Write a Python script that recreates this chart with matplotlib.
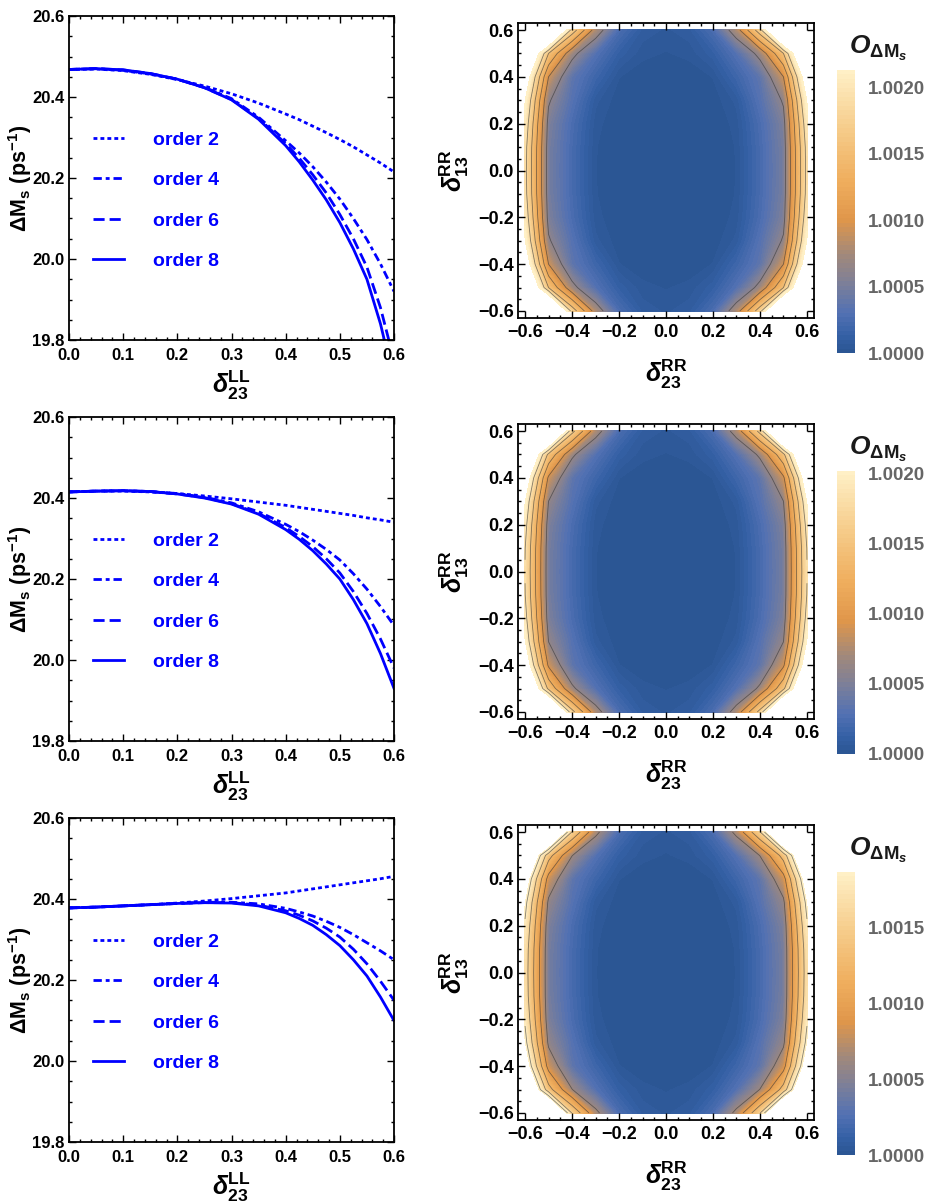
import numpy as np
import matplotlib
matplotlib.use('Agg')
import matplotlib.pyplot as plt
from matplotlib.colors import LinearSegmentedColormap
from matplotlib.ticker import MultipleLocator, FuncFormatter

plt.rcParams['font.family'] = ['Liberation Sans', 'DejaVu Sans']
plt.rcParams['font.weight'] = 'bold'
plt.rcParams['mathtext.fontset'] = 'custom'
plt.rcParams['mathtext.rm'] = 'Liberation Sans:bold'
plt.rcParams['mathtext.bf'] = 'Liberation Sans:bold'
plt.rcParams['mathtext.it'] = 'Liberation Sans:italic:bold'
plt.rcParams['mathtext.bfit'] = 'Liberation Sans:italic:bold'
plt.rcParams['mathtext.sf'] = 'Liberation Sans:bold'

# ---------------- data: left panels (Delta M_s vs delta_23^LL) ----------------
delta_ll = [0.0, 0.05, 0.1, 0.15, 0.2, 0.25, 0.3, 0.35, 0.4,
            0.425, 0.45, 0.475, 0.5, 0.525, 0.55, 0.575, 0.6]

p1_order2 = [20.468, 20.469, 20.465, 20.456, 20.443, 20.427, 20.408, 20.385, 20.358,
             20.344, 20.328, 20.312, 20.295, 20.277, 20.257, 20.237, 20.215]
p1_order4 = [20.468, 20.470, 20.466, 20.457, 20.444, 20.424, 20.396, 20.350, 20.292,
             20.262, 20.228, 20.190, 20.148, 20.100, 20.048, 19.988, 19.920]
p1_order6 = [20.468, 20.470, 20.467, 20.458, 20.444, 20.423, 20.394, 20.347, 20.285,
             20.249, 20.208, 20.163, 20.110, 20.050, 19.980, 19.880, 19.750]
p1_order8 = [20.468, 20.470, 20.467, 20.458, 20.444, 20.423, 20.393, 20.345, 20.280,
             20.240, 20.195, 20.146, 20.090, 20.025, 19.950, 19.840, 19.700]

p2_order2 = [20.415, 20.417, 20.417, 20.415, 20.411, 20.405, 20.398, 20.390, 20.382,
             20.377, 20.372, 20.367, 20.362, 20.357, 20.351, 20.346, 20.340]
p2_order4 = [20.415, 20.417, 20.418, 20.416, 20.411, 20.402, 20.388, 20.366, 20.335,
             20.317, 20.296, 20.273, 20.247, 20.213, 20.175, 20.132, 20.085]
p2_order6 = [20.415, 20.417, 20.418, 20.416, 20.410, 20.401, 20.386, 20.362, 20.327,
             20.305, 20.280, 20.250, 20.215, 20.169, 20.115, 20.052, 19.980]
p2_order8 = [20.415, 20.417, 20.418, 20.416, 20.410, 20.400, 20.385, 20.360, 20.322,
             20.298, 20.270, 20.237, 20.200, 20.149, 20.090, 20.016, 19.930]

p3_order2 = [20.378, 20.380, 20.383, 20.386, 20.390, 20.395, 20.401, 20.408, 20.415,
             20.420, 20.425, 20.430, 20.435, 20.440, 20.445, 20.450, 20.456]
p3_order4 = [20.378, 20.380, 20.383, 20.386, 20.389, 20.392, 20.392, 20.388, 20.377,
             20.368, 20.358, 20.345, 20.330, 20.312, 20.292, 20.272, 20.250]
p3_order6 = [20.378, 20.380, 20.383, 20.386, 20.389, 20.391, 20.391, 20.385, 20.371,
             20.360, 20.346, 20.328, 20.306, 20.276, 20.240, 20.197, 20.150]
p3_order8 = [20.378, 20.380, 20.383, 20.386, 20.389, 20.391, 20.390, 20.383, 20.366,
             20.352, 20.335, 20.312, 20.285, 20.250, 20.210, 20.158, 20.100]

order_labels = ['order 2', 'order 4', 'order 6', 'order 8']

# ---------------- data: right panels (O_{Delta M_s} - 1, units of 1e-4) ----------------
# quarter grid: rows |delta_13^RR| = 0..0.6, columns |delta_23^RR| = 0..0.6 (symmetric)
grid_offsets = [0.0, 0.1, 0.2, 0.3, 0.4, 0.5, 0.6]

p1_quarter = [
    [0.00, 0.00, 0.02, 0.35, 2.30, 4.80, 18.8],
    [0.00, 0.00, 0.02, 0.36, 2.33, 4.85, 19.0],
    [0.00, 0.00, 0.04, 0.46, 2.50, 5.20, 20.0],
    [0.00, 0.01, 0.09, 0.78, 3.10, 6.30, 21.6],
    [0.05, 0.08, 0.35, 1.80, 3.60, 9.00, 24.7],
    [0.30, 0.45, 1.20, 3.00, 6.90, 15.0, 30.8],
    [0.60, 0.90, 2.50, 7.70, 16.8, 36.0, 99.0],
]
p2_quarter = [
    [0.00, 0.00, 0.02, 0.33, 2.19, 4.56, 17.9],
    [0.00, 0.00, 0.02, 0.34, 2.21, 4.61, 18.1],
    [0.00, 0.00, 0.04, 0.44, 2.38, 4.94, 19.0],
    [0.00, 0.01, 0.09, 0.74, 2.95, 5.99, 20.5],
    [0.05, 0.08, 0.33, 1.71, 3.42, 8.55, 23.5],
    [0.29, 0.43, 1.14, 2.85, 6.56, 14.3, 29.3],
    [0.57, 0.86, 2.38, 7.32, 16.0, 34.2, 94.0],
]
p3_quarter = [
    [0.00, 0.00, 0.02, 0.31, 2.02, 4.22, 16.5],
    [0.00, 0.00, 0.02, 0.32, 2.05, 4.27, 16.7],
    [0.00, 0.00, 0.04, 0.40, 2.20, 4.58, 17.6],
    [0.00, 0.01, 0.08, 0.69, 2.73, 5.54, 19.0],
    [0.04, 0.07, 0.31, 1.58, 3.17, 7.92, 21.7],
    [0.26, 0.40, 1.06, 2.64, 6.07, 13.2, 27.1],
    [0.53, 0.79, 2.20, 6.78, 14.8, 31.7, 87.1],
]

cbar_max = [1.00213, 1.00202, 1.00187]
cbar_ticks = [[1.0000, 1.0005, 1.0010, 1.0015, 1.0020],
              [1.0000, 1.0005, 1.0010, 1.0015, 1.0020],
              [1.0000, 1.0005, 1.0010, 1.0015]]
contour_line_levels = [1.0006, 1.0009, 1.0012, 1.0015, 1.0018]

# ---------------- styling ----------------
W, H = 930, 1202
fig = plt.figure(figsize=(W / 100, H / 100), dpi=100)

cmap = LinearSegmentedColormap.from_list('sunset', [
    (0.00, '#2a5592'), (0.06, '#3460a5'), (0.14, '#5271b3'),
    (0.24, '#7b7f9a'), (0.35, '#a2897a'), (0.47, '#e0964a'),
    (0.61, '#efae5e'), (0.80, '#f6cd8c'), (1.00, '#fff1c8')])

blue = '#0000ff'
styles = [dict(dashes=(1.4, 1.1)), dict(dashes=(3.0, 1.4, 1.4, 1.4)),
          dict(dashes=(4.0, 1.8)), dict(linestyle='-')]

minus = lambda fmt: FuncFormatter(lambda v, p: (fmt % v).replace('-', '\u2212'))


def frame(ax, fs, xpad=3):
    ax.tick_params(which='both', direction='in', top=True, right=True, width=1.0,
                   labelsize=fs, pad=3)
    ax.tick_params(axis='x', which='both', pad=xpad)
    ax.tick_params(which='major', length=5)
    ax.tick_params(which='minor', length=2.5)
    for s in ax.spines.values():
        s.set_linewidth(1.3)


def px_axes(l, t, w, h):
    return fig.add_axes([l / W, 1 - (t + h) / H, w / W, h / H])


left_data = [(p1_order2, p1_order4, p1_order6, p1_order8),
             (p2_order2, p2_order4, p2_order6, p2_order8),
             (p3_order2, p3_order4, p3_order6, p3_order8)]
quarters = [p1_quarter, p2_quarter, p3_quarter]

half = np.array(grid_offsets)
coords = np.concatenate([-half[:0:-1], half])


def mirror(q):
    q = np.asarray(q, dtype=float)
    qx = np.hstack([q[:, :0:-1], q])
    return np.vstack([qx[:0:-1], qx])


for r in range(3):
    dy = 401 * r
    # ---- left panel ----
    ax = px_axes(69, 16 + dy, 325, 324)
    handles = []
    for series, st, lab in zip(left_data[r], styles, order_labels):
        ln, = ax.plot(delta_ll, series, color=blue, lw=2.0, label=lab, **st)
        handles.append(ln)
    ax.set_xlim(0, 0.6)
    ax.set_ylim(19.8, 20.6)
    ax.xaxis.set_major_locator(MultipleLocator(0.1))
    ax.xaxis.set_minor_locator(MultipleLocator(0.02))
    ax.yaxis.set_major_locator(MultipleLocator(0.2))
    ax.yaxis.set_minor_locator(MultipleLocator(0.05))
    ax.xaxis.set_major_formatter(minus('%.1f'))
    ax.yaxis.set_major_formatter(minus('%.1f'))
    frame(ax, 12, xpad=5.5)
    ax.set_xlabel(r'$\boldsymbol{\delta}_{\mathbf{23}}^{\mathbf{LL}}$', fontsize=18)
    ax.xaxis.set_label_coords(0.5, -0.14)
    ax.xaxis.label.set_va('center')
    ax.set_ylabel(r'$\mathbf{\Delta M_s\ (ps^{-1})}$', fontsize=15.5)
    ax.yaxis.set_label_coords(-0.15, 0.5)
    ax.yaxis.label.set_va('center')
    leg = ax.legend(handles=handles, loc='upper left', bbox_to_anchor=(0.075, 0.645),
                    frameon=False, handlelength=1.55, handletextpad=1.5,
                    labelspacing=1.18, borderpad=0, borderaxespad=0,
                    prop={'weight': 'bold', 'size': 14})
    for t in leg.get_texts():
        t.set_color(blue)

    # ---- right panel ----
    ax2 = px_axes(518, 23 + dy, 296, 295)
    Z = 1.0 + mirror(quarters[r]) * 1e-4
    levels = np.linspace(1.0, cbar_max[r], 64)
    cf = ax2.contourf(coords, coords, Z, levels=levels, cmap=cmap)
    cf.set_edgecolor('face')
    cf.set_linewidth(0.25)
    ax2.contour(coords, coords, Z, levels=contour_line_levels, colors='#333333',
                linewidths=0.6, alpha=0.6)
    ax2.set_xlim(-0.63, 0.63)
    ax2.set_ylim(-0.63, 0.63)
    for axis in (ax2.xaxis, ax2.yaxis):
        axis.set_major_locator(MultipleLocator(0.2))
        axis.set_minor_locator(MultipleLocator(0.05))
        axis.set_major_formatter(minus('%.1f'))
    frame(ax2, 13, xpad=4)
    ax2.set_xlabel(r'$\boldsymbol{\delta}_{\mathbf{23}}^{\mathbf{RR}}$', fontsize=18)
    ax2.xaxis.set_label_coords(0.5, -0.19)
    ax2.xaxis.label.set_va('center')
    ax2.set_ylabel(r'$\boldsymbol{\delta}_{\mathbf{13}}^{\mathbf{RR}}$', fontsize=18)
    ax2.yaxis.set_label_coords(-0.215, 0.5)
    ax2.yaxis.label.set_va('center')

    # ---- colorbar ----
    cax = px_axes(837, 70 + dy, 18, 283)
    cb = fig.colorbar(cf, cax=cax, ticks=cbar_ticks[r])
    cb.ax.yaxis.set_major_formatter(minus('%.4f'))
    cb.ax.tick_params(length=0, labelsize=13.5, labelcolor='#666666', pad=9)
    cb.minorticks_off()
    cb.outline.set_visible(False)
    fig.text(878 / W, 1 - (48 + dy) / H,
             r'$\boldsymbol{O}_{\mathbf{\Delta M}_{\boldsymbol{s}}}$',
             ha='center', va='center', fontsize=19, color='#1a1a1a')

fig.savefig('out.png', dpi=100)
